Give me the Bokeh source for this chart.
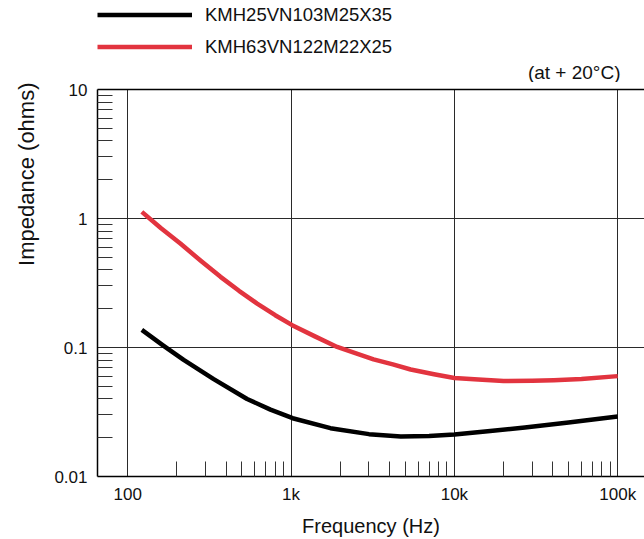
from bokeh.plotting import figure
from bokeh.layouts import column
from bokeh.models import (LogAxis, FixedTicker, Legend, LegendItem, Title, Label, Range1d)
from bokeh.embed import file_html
from bokeh.resources import INLINE

# ---- data ----
freq_black = [122, 166, 220, 336, 538, 748, 1023, 1742, 3000, 4700, 7000, 10000, 16000, 27000, 50000, 100000]
z_black = [0.137, 0.103, 0.0802, 0.0569, 0.0399, 0.033, 0.0283, 0.0237, 0.0213, 0.0204, 0.0206, 0.0212, 0.0224, 0.024, 0.0262, 0.0292]

freq_red = [122, 160, 210, 280, 370, 480, 620, 800, 1016, 1400, 1915, 2500, 3200, 4200, 5400, 7500, 10000, 14000, 20000, 30000, 40600, 60000, 100000]
z_red = [1.125, 0.84, 0.64, 0.47, 0.353, 0.275, 0.219, 0.178, 0.149, 0.122, 0.101, 0.090, 0.081, 0.074, 0.0675, 0.062, 0.058, 0.0565, 0.055, 0.0552, 0.0558, 0.057, 0.060]

series_names = ["KMH25VN103M25X35", "KMH63VN122M22X25"]
series_colors = ["#000000", "#e2343f"]

x_major = [100, 1000, 10000, 100000]
x_major_labels = ["100", "1k", "10k", "100k"]
x_minor = [m * 10 ** e for e in (2, 3, 4) for m in range(2, 10)]
y_major = [0.01, 0.1, 1, 10]
y_major_labels = ["0.01", "0.1", "1", "10"]
y_minor = [m * 10.0 ** e for e in (-2, -1, 0) for m in range(2, 10)]

FONT = "Liberation Sans"
TXT = "#111111"
LW = 4.5
series = [(freq_black, z_black), (freq_red, z_red)]

# ---------------- header (legend + condition note) ----------------
h = figure(width=644, height=82, title=None, x_axis_type="log", y_axis_type="log",
           x_range=Range1d(65.3, 145900), y_range=Range1d(0.01, 10),
           x_axis_location=None, y_axis_location=None, output_backend="svg", toolbar_location=None,
           min_border=0)
h.outline_line_color = None
h.xgrid.visible = False
h.ygrid.visible = False
key_lines = [h.line(fx, zy, line_color=c, line_width=LW, visible=False)
             for (fx, zy), c in zip(series, series_colors)]
legend = Legend(items=[LegendItem(label=n, renderers=[r]) for n, r in zip(series_names, key_lines)],
                location=(0, 24.5), orientation="vertical",
                glyph_width=95, glyph_height=21, label_height=21, label_standoff=13,
                spacing=10, padding=0, margin=0, inactive_fill_alpha=0,
                border_line_color=None, background_fill_alpha=0,
                label_text_font=FONT, label_text_font_size="18.5px", label_text_color=TXT)
h.add_layout(legend)
h.add_layout(Label(x=523, y=10, x_units="screen", y_units="screen", text="(at + 20°C)",
                   text_align="right", text_baseline="middle",
                   text_font=FONT, text_font_size="19px", text_color=TXT))

# ---------------- main chart ----------------
p = figure(width=644, height=457, title=None, x_axis_type="log", y_axis_type="log",
           x_range=Range1d(65.3, 145900), y_range=Range1d(0.01, 10),
           output_backend="svg", toolbar_location=None,
           min_border_left=97, min_border_right=0, min_border_top=7, min_border_bottom=62)
p.outline_line_color = None

for (fx, zy), col in zip(series, series_colors):
    p.line(fx, zy, line_color=col, line_width=LW, line_join="round", line_cap="butt")

for ax, ticks, minors, labels in [(p.xaxis[0], x_major, x_minor, x_major_labels),
                                  (p.yaxis[0], y_major, y_minor, y_major_labels)]:
    ax.ticker = FixedTicker(ticks=ticks, minor_ticks=minors)
    ax.major_label_overrides = {t: l for t, l in zip(ticks, labels)}
    ax.axis_line_color = "black"
    ax.axis_line_width = 1.5
    ax.major_tick_in = 0
    ax.major_tick_out = 0
    ax.minor_tick_in = 15
    ax.minor_tick_out = 0
    ax.minor_tick_line_color = "#333333"
    ax.minor_tick_line_width = 1
    ax.major_label_text_font = FONT
    ax.major_label_text_font_size = "17px"
    ax.major_label_text_color = TXT

p.xaxis[0].major_label_standoff = 8
p.yaxis[0].major_label_standoff = 10
p.xaxis[0].axis_label = "Frequency (Hz)"
p.xaxis[0].axis_label_text_font = FONT
p.xaxis[0].axis_label_text_font_size = "20px"
p.xaxis[0].axis_label_text_font_style = "normal"
p.xaxis[0].axis_label_text_color = TXT
p.xaxis[0].axis_label_standoff = 8

top_axis = LogAxis(ticker=FixedTicker(ticks=[]), axis_line_color="black", axis_line_width=1.5,
                   major_tick_in=0, major_tick_out=0, minor_tick_in=0, minor_tick_out=0)
p.add_layout(top_axis, "above")

p.xgrid.ticker = FixedTicker(ticks=x_major)
p.ygrid.ticker = FixedTicker(ticks=y_major)
for g in (p.xgrid[0], p.ygrid[0]):
    g.grid_line_color = "#2a2a2a"
    g.grid_line_width = 1

p.add_layout(Title(text="Impedance (ohms)", align="right", vertical_align="top",
                   standoff=22, offset=-7,
                   text_font=FONT, text_font_size="22px", text_font_style="normal",
                   text_color=TXT), "left")

layout = column(h, p, spacing=0)
open("out.html", "w").write(file_html(layout, INLINE))
